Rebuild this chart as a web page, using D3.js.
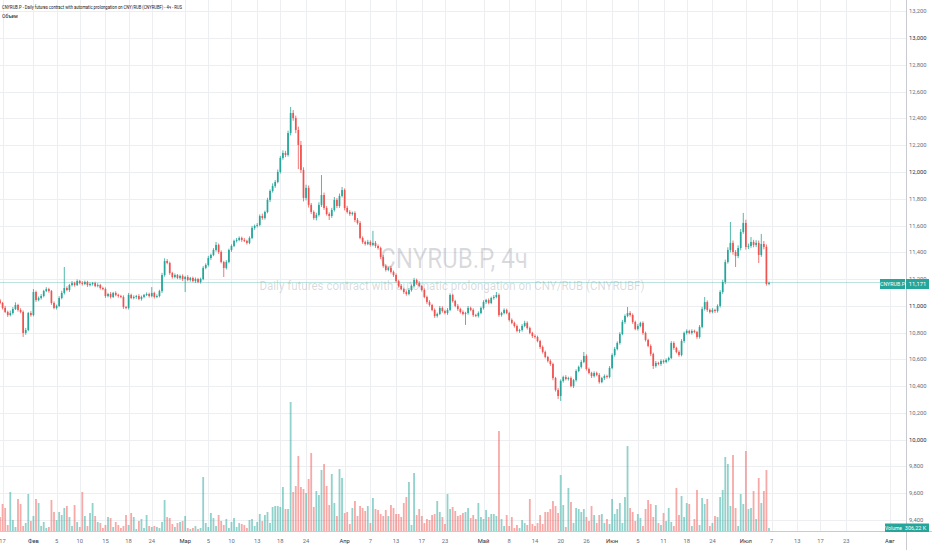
<!DOCTYPE html>
<html><head><meta charset="utf-8">
<script src="https://cdn.jsdelivr.net/npm/d3@7"></script>
<style>html,body{margin:0;padding:0;background:#fff;overflow:hidden}</style>
</head><body><svg id="c" width="932" height="550"></svg>
<script>
// ---- DATA ----
const firstOpen = 11040;
const closes = [
11021,10984,10954,10931,10946,10976,11006,10969,10954,10797,10819,10946,10931,11103,11043,11058,11073,11110,11125,11110,
11021,10984,10999,11058,11096,11133,11118,11155,11170,11155,11185,11170,11163,11178,11155,11163,11170,11148,11155,11133,
11125,11073,11088,11066,11096,11081,11073,11066,10991,10984,11081,11058,11066,11073,11051,11066,11081,11088,11073,11096,
11066,11073,11110,11230,11335,11320,11245,11215,11230,11208,11223,11200,11215,11193,11208,11185,11200,11178,11200,11283,
11305,11357,11380,11417,11455,11402,11327,11283,11327,11417,11447,11485,11492,11507,11492,11485,11470,11507,11582,11597,
11604,11671,11656,11701,11791,11858,11895,11925,12000,12105,12142,12127,12291,12441,12403,12314,12202,12015,11806,11881,
11754,11701,11656,11679,11754,11828,11731,11686,11671,11716,11791,11746,11821,11865,11731,11701,11686,11694,11641,11619,
11507,11477,11462,11477,11455,11470,11447,11432,11365,11298,11268,11283,11253,11230,11185,11148,11125,11103,11088,11118,
11148,11193,11170,11148,11118,11066,11028,11006,10969,10924,10939,10984,10961,10946,10969,11081,11036,10999,10976,10954,
10939,10946,10984,10969,10931,10924,10946,10984,11028,11043,11021,11058,11066,11081,10931,10946,10969,10946,10894,10872,
10849,10812,10819,10849,10872,10834,10797,10774,10767,10737,10692,10655,10617,10588,10565,10460,10371,10326,10438,10468,
10453,10460,10400,10445,10513,10543,10580,10625,10528,10498,10475,10498,10483,10430,10460,10475,10468,10535,10632,10677,
10722,10789,10879,10924,10946,10931,10879,10827,10849,10872,10797,10745,10700,10640,10550,10573,10565,10588,10580,10595,
10610,10722,10685,10655,10632,10737,10797,10812,10797,10812,10804,10767,10842,10976,11028,10969,10954,10969,10961,10999,
11103,11178,11327,11417,11470,11402,11372,11432,11552,11619,11440,11447,11477,11455,11470,11380,11462,11440,11163,11171
];
const wickUp = [
12,8,15,10,18,14,20,9,12,11,16,8,14,22,10,12,15,9,14,10,
8,12,10,14,16,157,12,9,15,10,12,8,14,10,9,12,8,10,14,9,
10,12,9,14,8,12,10,9,12,8,15,10,12,9,14,10,8,12,10,44,
9,12,10,16,20,14,10,9,12,8,10,12,9,14,8,10,12,9,10,14,
12,16,10,14,22,10,12,9,14,10,12,9,15,12,10,14,9,12,15,10,
14,12,18,10,16,12,20,14,18,15,20,16,18,45,22,18,25,30,20,24,
18,14,12,16,20,149,18,14,12,16,22,14,18,23,12,16,14,10,12,15,
14,12,10,16,12,90,14,12,10,15,12,9,14,10,12,9,14,10,12,15,
12,16,10,14,9,12,10,14,9,12,10,15,12,9,14,12,10,9,14,10,
12,9,14,10,12,9,12,10,14,9,12,10,14,22,12,9,12,10,9,12,
10,12,9,14,16,12,10,9,12,10,9,12,10,9,12,10,9,14,12,10,
14,10,12,9,12,10,14,30,12,10,9,12,10,14,9,12,10,14,12,15,
12,14,16,12,45,14,12,10,14,9,12,10,9,12,10,14,9,12,10,12,
10,14,12,9,12,14,10,12,9,12,10,9,14,16,38,12,10,14,9,12,
14,16,18,20,156,18,14,20,22,75,24,18,37,16,20,18,75,22,18,10
];
const wickDn = [
10,12,9,14,10,12,8,12,10,30,14,9,12,10,14,9,12,10,8,12,
14,10,12,9,10,12,9,14,10,12,8,10,12,9,14,10,12,9,10,12,
9,14,10,12,8,10,12,9,14,10,12,9,10,14,9,12,10,8,12,10,
12,9,10,14,12,10,14,12,10,9,12,14,97,10,12,9,14,10,12,9,
10,12,14,9,12,14,10,68,12,10,14,9,12,10,14,9,12,10,9,14,
12,10,14,12,10,16,12,14,10,12,14,16,12,18,20,24,180,22,26,18,
20,16,14,18,12,16,14,12,30,14,12,16,14,12,18,12,14,12,16,12,
10,14,12,9,12,10,14,12,16,14,12,10,12,14,10,12,9,14,12,10,
12,10,14,9,12,10,14,12,10,14,12,9,12,10,14,9,12,10,14,12,
10,82,12,10,14,9,12,10,12,14,10,9,12,10,14,12,10,9,12,10,
12,10,14,12,9,12,10,14,12,10,14,12,10,12,14,16,12,22,37,12,
10,12,9,14,12,10,12,9,12,10,14,12,10,12,9,14,12,10,9,12,
10,12,9,14,10,12,14,10,12,10,14,12,10,16,22,12,10,14,12,10,
12,9,14,10,12,10,14,12,10,12,9,14,12,10,12,14,12,10,14,12,
12,14,16,12,18,20,82,16,18,14,20,16,14,18,16,60,14,18,12,10
];
// volume, thousands
const volumes = [
1400,2700,2300,600,3900,1100,400,3200,2700,500,800,3700,1000,1500,3200,2800,500,900,300,400,
3100,1900,1100,1900,1600,2300,2500,1400,500,2600,900,400,3900,1500,500,1800,2800,1500,900,800,
300,600,1400,1300,400,900,600,300,500,1600,600,1800,1400,200,1000,1200,300,1600,500,400,
500,400,300,900,3100,1400,1300,700,400,800,900,1000,1500,300,200,300,500,200,300,5400,
800,400,1800,1300,500,1600,1000,600,1200,300,900,1300,400,800,700,600,300,1100,1200,500,
900,1700,1000,1600,1900,800,2400,2500,2500,2400,4400,2200,2200,12900,3900,4500,7500,4400,4200,3800,
5200,7800,2400,4000,3600,6100,6700,4500,2600,5700,2800,1500,6200,5300,1800,1900,700,2300,3000,1500,
2500,2300,2000,2500,800,3300,2200,2100,1700,1500,2100,1500,2600,2300,1700,1700,1400,2800,3400,4900,
600,5800,1600,2200,1500,800,1200,1100,1600,1700,3000,1900,1400,700,3700,2200,2400,2000,1500,1600,
1800,1900,2300,1300,1600,1200,2800,1400,1200,2100,1400,1700,1700,1500,10000,1200,500,1600,500,1400,
300,600,300,1100,800,600,3200,700,500,800,1600,700,1900,1900,2200,3000,2500,1800,5600,2600,
400,4300,2900,800,2300,2200,1900,2200,1400,1000,2500,1600,800,1600,1700,800,1200,700,3200,1700,
2200,2800,800,3400,8500,2300,1900,1000,1700,1300,500,2200,3100,2700,1400,2600,800,600,1800,1000,
2300,900,500,4300,1600,3500,1400,2800,2700,500,1200,4100,600,3300,2700,3200,500,800,1500,1400,
3400,4100,7400,6700,2500,7600,2300,500,3700,2700,8000,2200,2300,4000,1200,5300,2800,4000,6100,306.22
];
const priceTicks = [9400,9600,9800,10000,10200,10400,10600,10800,11000,11200,11400,11600,11800,12000,12200,12400,12600,12800,13000,13200];
const timeTickIdx = [1,13,22,31,41,50,59,72,81,90,100,109,119,134,144,154,164,173,188,198,208,218,228,238,248,258,267,277,290,300,310,319,329,346];
const timeTickLabels = ["17","Фев","5","10","15","18","24","Мар","5","10","13","18","24","Апр","7","13","17","23","Май","8","14","20","26","Июн","5","11","18","24","Июл","7","13","17","23","Авг"];
const monthLabels = ["Фев","Мар","Апр","Май","Июн","Июл","Авг"];
const lastPrice = 11171;
const lastPriceText = "11,171";
const lastVolumeText = "306,22 K";
const symbol = "CNYRUB.P";
const titleText = "CNYRUB.P - Daily futures contract with automatic prolongation on CNY/RUB (CNYRUBF) - 4ч - RUS";
const volTitle = "Объем";
const wmLine1 = "CNYRUB.P, 4ч";
const wmLine2 = "Daily futures contract with automatic prolongation on CNY/RUB (CNYRUBF)";

// ---- BUILD ----
const bars = closes.map((c, i) => {
  const o = i === 0 ? firstOpen : closes[i - 1];
  return { i, o, c, h: Math.max(o, c) + wickUp[i], l: Math.min(o, c) - wickDn[i], v: volumes[i] };
});

const UP = "#26a69a", DN = "#ef5350";
const AX = 906, PB = 531;
const svg = d3.select("#c");
const x = d3.scaleLinear().domain([0, closes.length - 1]).range([0, 769]);
const y = d3.scaleLinear().domain([9400, 13200]).range([519.9, 11.4]);
const yv = d3.scaleLinear().domain([0, 12900]).range([PB, 402]);
const font = "Roboto, 'Liberation Sans', sans-serif";

// grid
const g = svg.append("g");
g.selectAll(".hg").data(priceTicks).join("line")
  .attr("x1", 0).attr("x2", AX).attr("y1", d => Math.round(y(d)) + 0.5).attr("y2", d => Math.round(y(d)) + 0.5)
  .attr("stroke", "#eceef2").attr("stroke-width", 1);
g.selectAll(".vg").data(timeTickIdx).join("line")
  .attr("x1", d => Math.round(x(d)) + 0.5).attr("x2", d => Math.round(x(d)) + 0.5).attr("y1", 0).attr("y2", PB)
  .attr("stroke", "#eceef2").attr("stroke-width", 1);

// watermark
svg.append("text").attr("x", 454).attr("y", 268).attr("text-anchor", "middle")
  .attr("font-family", font).attr("font-size", 28).attr("fill", "rgba(120,123,134,0.28)")
  .attr("textLength", 148).attr("lengthAdjust", "spacingAndGlyphs").text(wmLine1);
svg.append("text").attr("x", 452).attr("y", 290).attr("text-anchor", "middle")
  .attr("font-family", font).attr("font-size", 12.5).attr("fill", "rgba(120,123,134,0.28)")
  .attr("textLength", 385).attr("lengthAdjust", "spacingAndGlyphs").text(wmLine2);

// volume
svg.append("g").selectAll("rect").data(bars).join("rect")
  .attr("x", d => x(d.i) - 0.9).attr("width", 1.8)
  .attr("y", d => yv(d.v)).attr("height", d => PB - yv(d.v))
  .attr("fill", d => d.c >= d.o ? "rgba(38,166,154,0.5)" : "rgba(239,83,80,0.5)");

// price line
svg.append("line").attr("x1", 0).attr("x2", AX).attr("y1", 282.5).attr("y2", 282.5)
  .attr("stroke", UP).attr("stroke-width", 1).attr("opacity", 0.3);

// candles
const cg = svg.append("g");
cg.selectAll("line").data(bars).join("line")
  .attr("x1", d => x(d.i)).attr("x2", d => x(d.i)).attr("y1", d => y(d.h)).attr("y2", d => y(d.l))
  .attr("stroke", d => d.c >= d.o ? UP : DN).attr("stroke-width", 0.8);
cg.selectAll("rect").data(bars).join("rect")
  .attr("x", d => x(d.i) - 0.85).attr("width", 1.7)
  .attr("y", d => y(Math.max(d.o, d.c)))
  .attr("height", d => Math.max(0.8, Math.abs(y(d.o) - y(d.c))))
  .attr("fill", d => d.c >= d.o ? UP : DN);

// axes frame
svg.append("rect").attr("x", AX).attr("y", 0).attr("width", 932 - AX).attr("height", 550).attr("fill", "#fff");
svg.append("rect").attr("x", 0).attr("y", PB).attr("width", 932).attr("height", 550 - PB).attr("fill", "#fff");
svg.append("line").attr("x1", AX + 0.5).attr("x2", AX + 0.5).attr("y1", 0).attr("y2", 550).attr("stroke", "#c9cbd0");
svg.append("line").attr("x1", 0).attr("x2", 932).attr("y1", PB + 0.5).attr("y2", PB + 0.5).attr("stroke", "#c9cbd0");

// price labels
const fmt = d3.format(",");
svg.append("g").selectAll("text").data(priceTicks).join("text")
  .attr("x", 909).attr("y", d => y(d)).attr("dy", "0.35em")
  .attr("font-family", font).attr("font-size", 5.8)
  .attr("fill", d => d % 1000 === 0 ? "#2a2e39" : "#6a6d78")
  .text(d => fmt(d));

// time labels
svg.append("g").selectAll("text").data(timeTickIdx).join("text")
  .attr("x", d => x(d)).attr("y", 541).attr("dy", "0.35em").attr("text-anchor", "middle")
  .attr("font-family", font).attr("font-size", 5.8)
  .attr("fill", (d, k) => monthLabels.includes(timeTickLabels[k]) ? "#2a2e39" : "#6a6d78")
  .text((d, k) => timeTickLabels[k]);

// last price label (covers the 11,200 tick as in the original)
const ly = 284;
svg.append("rect").attr("x", 880).attr("y", ly - 5).attr("width", 25).attr("height", 10).attr("fill", UP);
svg.append("rect").attr("x", 906).attr("y", ly - 5).attr("width", 23).attr("height", 10).attr("fill", UP);
svg.append("text").attr("x", 892.5).attr("y", ly).attr("dy", "0.35em").attr("text-anchor", "middle")
  .attr("font-family", font).attr("font-size", 5.3).attr("fill", "#fff").text(symbol);
svg.append("text").attr("x", 917.5).attr("y", ly).attr("dy", "0.35em").attr("text-anchor", "middle")
  .attr("font-family", font).attr("font-size", 5.8).attr("fill", "#fff").text(lastPriceText);

// volume label
svg.append("rect").attr("x", 885).attr("y", 523.5).attr("width", 17).attr("height", 8.5).attr("fill", UP);
svg.append("rect").attr("x", 902).attr("y", 523.5).attr("width", 27).attr("height", 8.5).attr("fill", UP);
svg.append("text").attr("x", 893.5).attr("y", 527.8).attr("dy", "0.35em").attr("text-anchor", "middle")
  .attr("font-family", font).attr("font-size", 5).attr("fill", "#fff").text("Volume");
svg.append("text").attr("x", 915.5).attr("y", 527.8).attr("dy", "0.35em").attr("text-anchor", "middle")
  .attr("font-family", font).attr("font-size", 5.5).attr("fill", "#fff").text(lastVolumeText);

// legend
svg.append("text").attr("x", 2).attr("y", 9).attr("font-family", font).attr("font-size", 5)
  .attr("fill", "#131722").attr("textLength", 180).attr("lengthAdjust", "spacingAndGlyphs").text(titleText);
svg.append("text").attr("x", 2).attr("y", 18).attr("font-family", font).attr("font-size", 5)
  .attr("fill", "#131722").text(volTitle);
</script></body></html>
